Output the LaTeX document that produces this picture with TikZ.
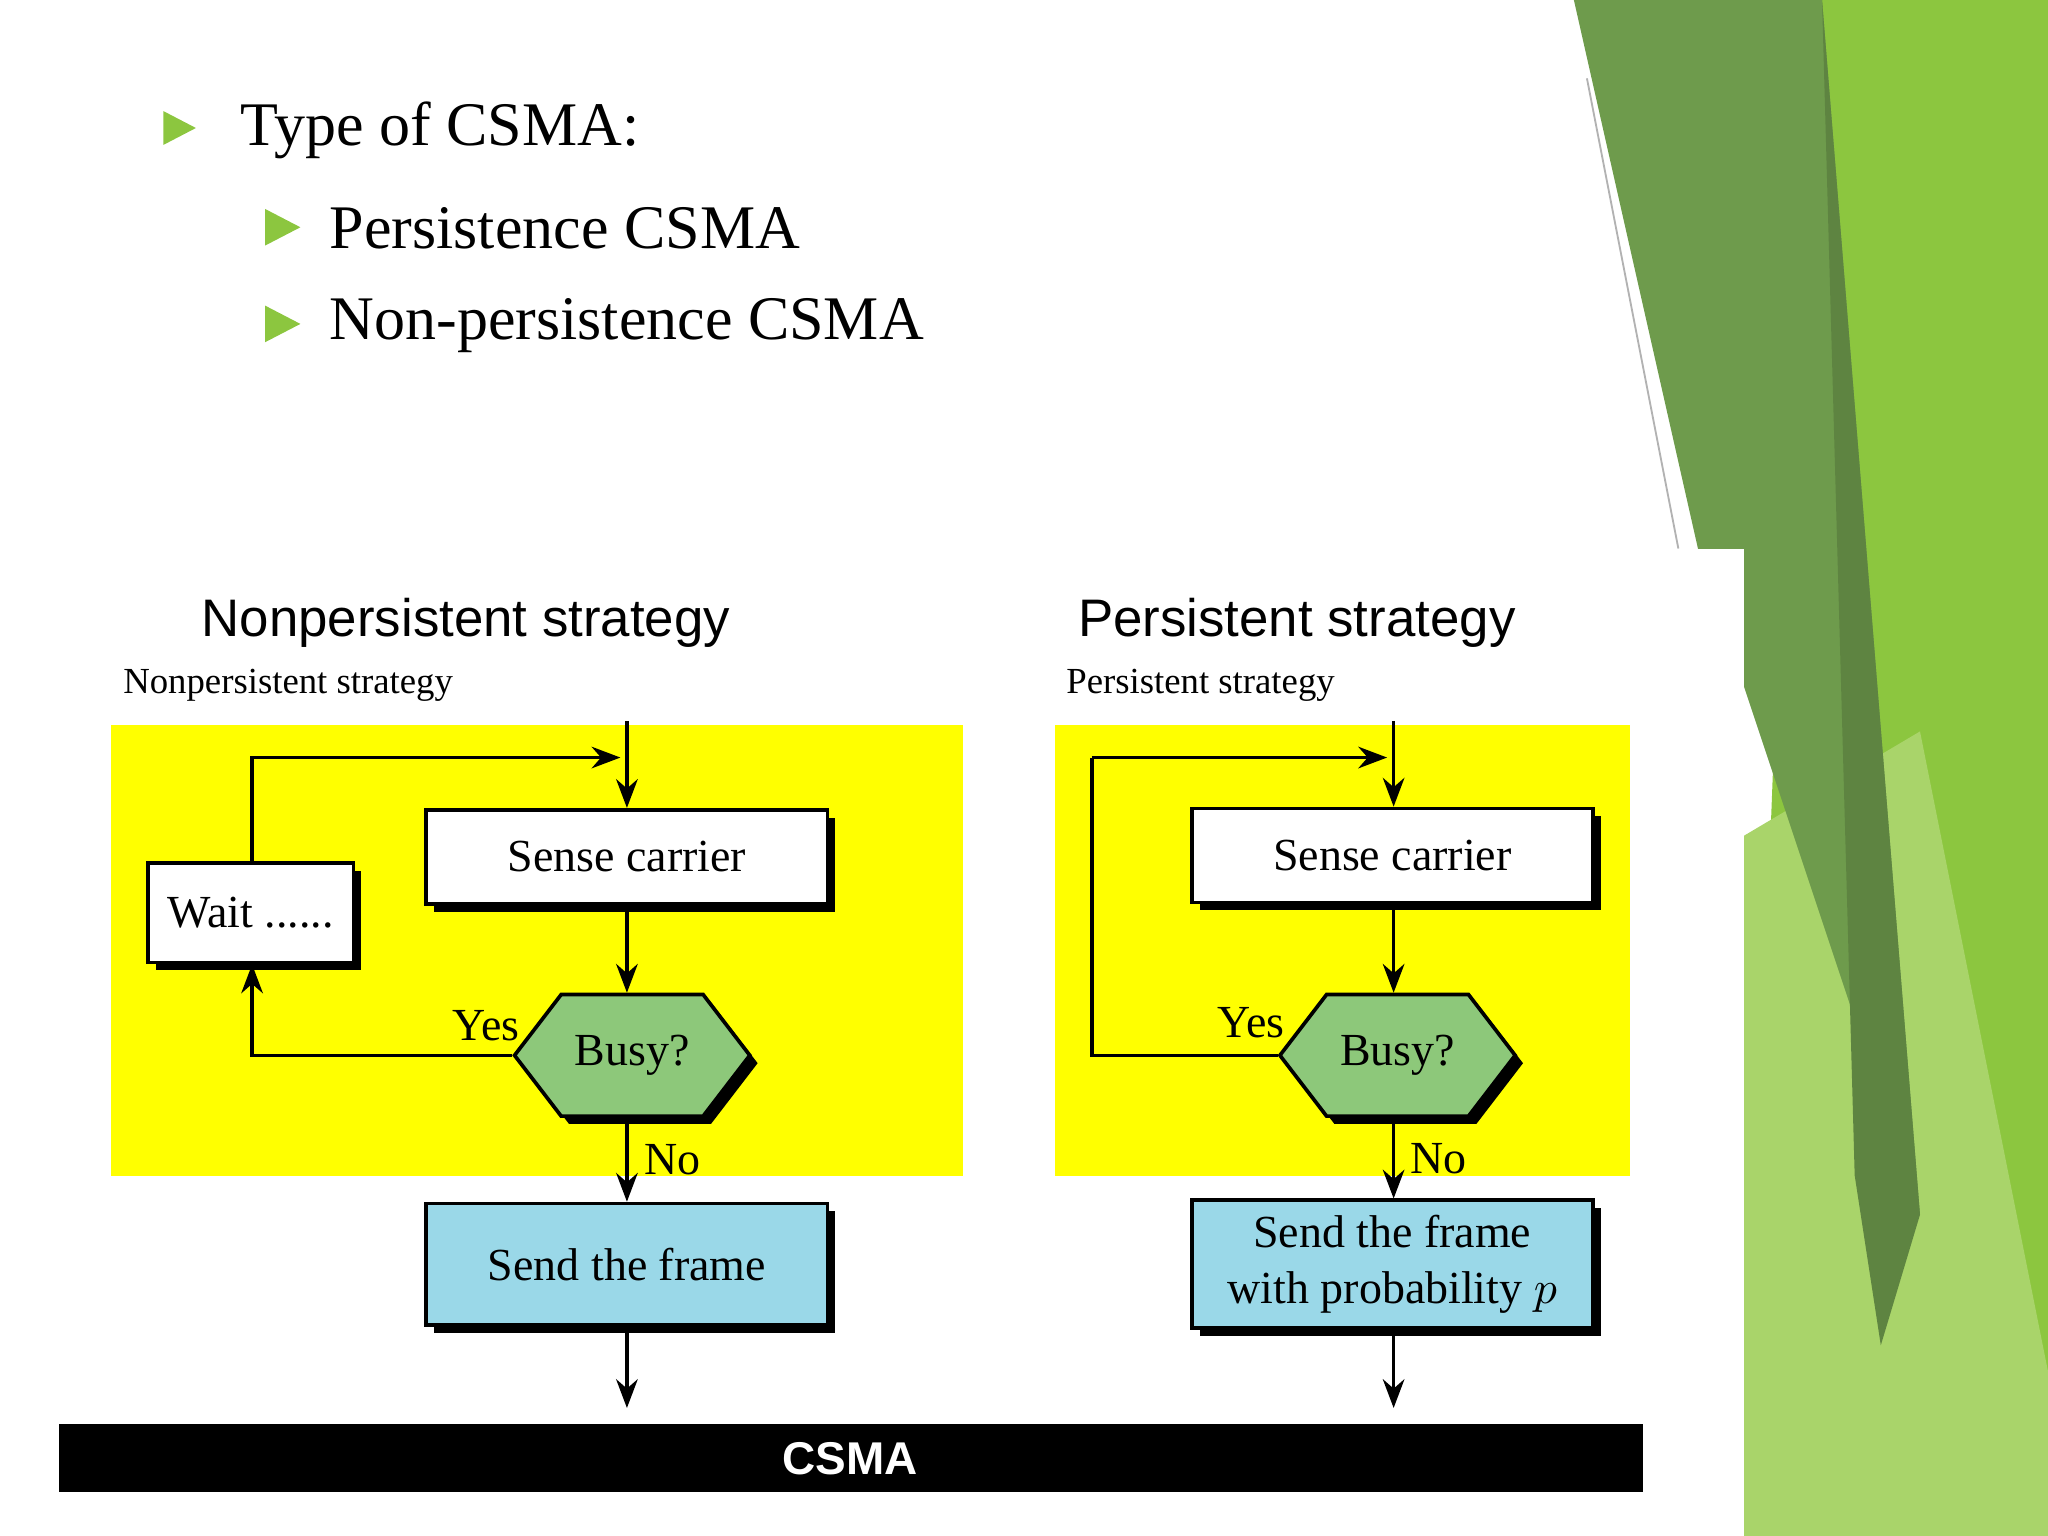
\documentclass[tikz,border=0pt]{standalone}
\usepackage{fontspec}
\setmainfont{Liberation Serif}
\newfontfamily\sansf{Liberation Sans}
\usetikzlibrary{arrows.meta,shapes.symbols,shadows}
\definecolor{ppyel}{HTML}{FFFF00}
\definecolor{ppgreen}{HTML}{8CC63F}
\definecolor{ppdark}{HTML}{6E9B4C}
\definecolor{ppmid}{HTML}{A9D46A}
\definecolor{hexgreen}{HTML}{8DC87A}
\definecolor{sendblue}{HTML}{9AD8E8}
\begin{document}
\begin{tikzpicture}[x=0.01cm,y=-0.01cm,
  box/.style={draw=black,thick,fill=white,minimum width=3.07cm,minimum height=0.72cm,
    font=\fontsize{10}{12}\selectfont,drop shadow={shadow xshift=0.06cm,shadow yshift=-0.06cm,opacity=1,fill=black}},
  hex/.style={signal,signal to=west and east,signal pointer angle=105,draw=black,thick,fill=hexgreen,
    minimum width=1.8cm,minimum height=0.93cm,inner sep=0pt,font=\fontsize{10}{12}\selectfont,
    drop shadow={shadow xshift=0.06cm,shadow yshift=-0.06cm,opacity=1,fill=black}},
  arr/.style={thick,-{Stealth[length=0.22cm]}},
  lbl/.style={font=\fontsize{10}{12}\selectfont},
  bul/.style={fill=ppgreen}]
\useasboundingbox (0,0) rectangle (1568,1176);
% slide decoration
\fill[ppgreen] (1380,0) -- (1568,0) -- (1568,1176) -- (1335,1176) -- cycle;
\fill[ppmid] (1335,640) -- (1470,560) -- (1568,1050) -- (1568,1176) -- (1335,1176) -- cycle;
\fill[ppdark] (1205,0) -- (1395,0) -- (1470,930) -- (1300,420) -- cycle;
\fill[ppdark!85!black] (1395,0) -- (1470,930) -- (1440,1030) -- (1420,900) -- cycle;
\draw[gray!60] (1215,60) -- (1285,420);
% bullets
\fill[bul] (125,85) -- (150,98) -- (125,111) -- cycle;
\node[anchor=west,font=\fontsize{13.5}{16}\selectfont] (t1) at (172,100) {Type of CSMA:};
\fill[bul] (203,160) -- (230,174) -- (203,188) -- cycle;
\node[anchor=west,font=\fontsize{13.5}{16}\selectfont] (t2) at (240,175) {Persistence CSMA};
\fill[bul] (203,234) -- (230,248) -- (203,262) -- cycle;
\node[anchor=west,font=\fontsize{13.5}{16}\selectfont] (t3) at (240,249) {Non-persistence CSMA};
% figure background
\fill[white] (0,420) rectangle (1335,1176);
\fill[ppyel] (85,555) rectangle (737,900);
\fill[ppyel] (808,555) rectangle (1248,900);
\node[anchor=west,font=\sansf\fontsize{11.5}{14}\selectfont] (h1) at (142,477) {Nonpersistent strategy};
\node[anchor=west,font=\fontsize{8}{10}\selectfont] (s1) at (82,525) {Nonpersistent strategy};
\node[anchor=west,font=\sansf\fontsize{11.5}{14}\selectfont] (h2) at (813,477) {Persistent strategy};
\node[anchor=west,font=\fontsize{8}{10}\selectfont] (s2) at (804,525) {Persistent strategy};
% left flow
\coordinate (ltop) at (480,552);
\node[box] (lsense) at (480,656) {Sense carrier};
\node[box,minimum width=1.57cm,minimum height=0.76cm] (wait) at (192,699) {Wait ......};
\node[hex] (lbusy) at (484,808) {Busy?};
\node[box,fill=sendblue,minimum height=0.93cm] (lsend) at (480,968) {Send the frame};
\coordinate (lend) at (480,1078);
\coordinate (lc1) at (193,580);
\coordinate (lc2) at (193,808);
\draw[arr] (ltop) -- (lsense);
\draw[arr] (lsense) -- (lbusy.north -| lsense);
\draw[arr] (lbusy.south -| lsense) -- node[lbl,right] {No} (lsend);
\draw[arr] (lsend) -- (lend);
\draw[arr] (lbusy.west) -- (lc2) -- (wait.south -| lc2);
\draw[arr] (wait.north -| lc1) -- (lc1) -- (475,580);
\node[lbl] (lyes) at (372,785) {Yes};
% right flow
\coordinate (rtop) at (1067,552);
\node[box] (rsense) at (1066,655) {Sense carrier};
\node[hex] (rbusy) at (1070,808) {Busy?};
\node[box,fill=sendblue,minimum height=0.93cm,align=center] (rsend) at (1066,968) {Send the frame\\with probability $p$};
\coordinate (rend) at (1067,1078);
\coordinate (rc1) at (836,580);
\coordinate (rc2) at (836,808);
\draw[arr] (rtop) -- (rsense.north -| rtop);
\draw[arr] (rsense.south -| rtop) -- (rbusy.north -| rtop);
\draw[arr] (rbusy.south -| rtop) -- node[lbl,right] {No} (rsend.north -| rtop);
\draw[arr] (rsend.south -| rtop) -- (rend);
\draw[thick] (rbusy.west) -- (rc2) -- (rc1);
\draw[arr] (rc1) -- (1062,580);
\node[lbl] (ryes) at (958,783) {Yes};
% caption bar
\fill[black] (45,1090) rectangle (1258,1142);
\node[text=white,font=\sansf\bfseries\fontsize{10}{12}\selectfont] (cap) at (651,1117) {CSMA};
\end{tikzpicture}
\end{document}
